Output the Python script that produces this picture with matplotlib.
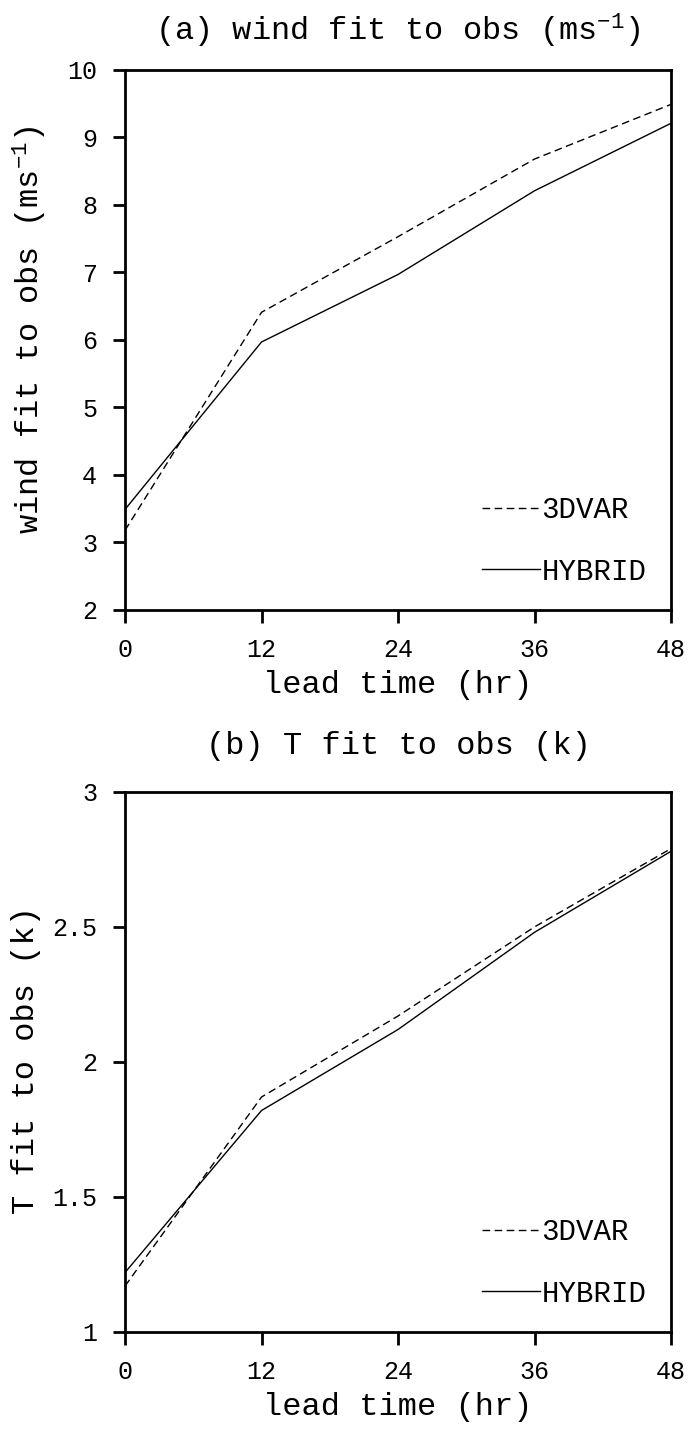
import numpy as np
import matplotlib.pyplot as plt

plt.rcParams['font.family'] = ['Liberation Mono', 'DejaVu Sans Mono']
plt.rcParams['mathtext.fontset'] = 'custom'
plt.rcParams['mathtext.rm'] = 'Liberation Mono'
plt.rcParams['mathtext.it'] = 'Liberation Mono'
plt.rcParams['mathtext.default'] = 'rm'

lead = [0, 12, 24, 36, 48]
xticks = [0, 12, 24, 36, 48]

# (a) wind fit to obs
wind_3dvar = [3.18, 6.41, 7.53, 8.68, 9.49]
wind_hybrid = [3.49, 5.97, 6.97, 8.21, 9.21]
wind_yticks = [2, 3, 4, 5, 6, 7, 8, 9, 10]

# (b) T fit to obs
t_3dvar = [1.17, 1.87, 2.17, 2.50, 2.79]
t_hybrid = [1.22, 1.82, 2.12, 2.48, 2.78]
t_yticks = [1, 1.5, 2, 2.5, 3]
t_yticklabels = ['1', '1.5', '2', '2.5', '3']

fig = plt.figure(figsize=(6.93, 14.39), dpi=100)
ax1 = fig.add_axes([0.1804, 0.5761, 0.7879, 0.3753])
ax2 = fig.add_axes([0.1804, 0.0744, 0.7879, 0.3753])


def style(ax, title, tpad, ylabel, ylx, yly):
    ax.set_xlim(0, 48)
    ax.set_xticks(xticks)
    ax.set_xlabel('lead time (hr)', fontsize=23, labelpad=6)
    ax.set_ylabel(ylabel, fontsize=23)
    ax.yaxis.set_label_coords(ylx, yly)
    ax.set_title(title, fontsize=23, pad=tpad)
    for s in ax.spines.values():
        s.set_linewidth(2.0)
    ax.tick_params(direction='out', length=9, width=2.0, labelsize=18)
    ax.tick_params(axis='x', pad=11)
    ax.tick_params(axis='y', pad=11)
    ax.legend(loc='lower right', bbox_to_anchor=(0.955, 0.045), frameon=False,
              fontsize=21, handlelength=2.0, handletextpad=0.05,
              labelspacing=1.15, borderpad=0, borderaxespad=0)


ax1.plot(lead, wind_3dvar, color='k', ls=(0, (5.5, 3.2)), lw=1.0, label='3DVAR')
ax1.plot(lead, wind_hybrid, color='k', ls='-', lw=1.0, label='HYBRID')
ax1.set_ylim(2, 10)
ax1.set_yticks(wind_yticks)
style(ax1, r'(a) wind fit to obs (ms$^{-1}$)', 21,
      r'wind fit to obs (ms$^{-1}$)', -0.139, 0.52)

ax2.plot(lead, t_3dvar, color='k', ls=(0, (5.5, 3.2)), lw=1.0, label='3DVAR')
ax2.plot(lead, t_hybrid, color='k', ls='-', lw=1.0, label='HYBRID')
ax2.set_ylim(1, 3)
ax2.set_yticks(t_yticks)
ax2.set_yticklabels(t_yticklabels)
style(ax2, '(b) T fit to obs (k)', 27, 'T fit to obs (k)', -0.154, 0.504)

fig.savefig('out.png', dpi=100)
